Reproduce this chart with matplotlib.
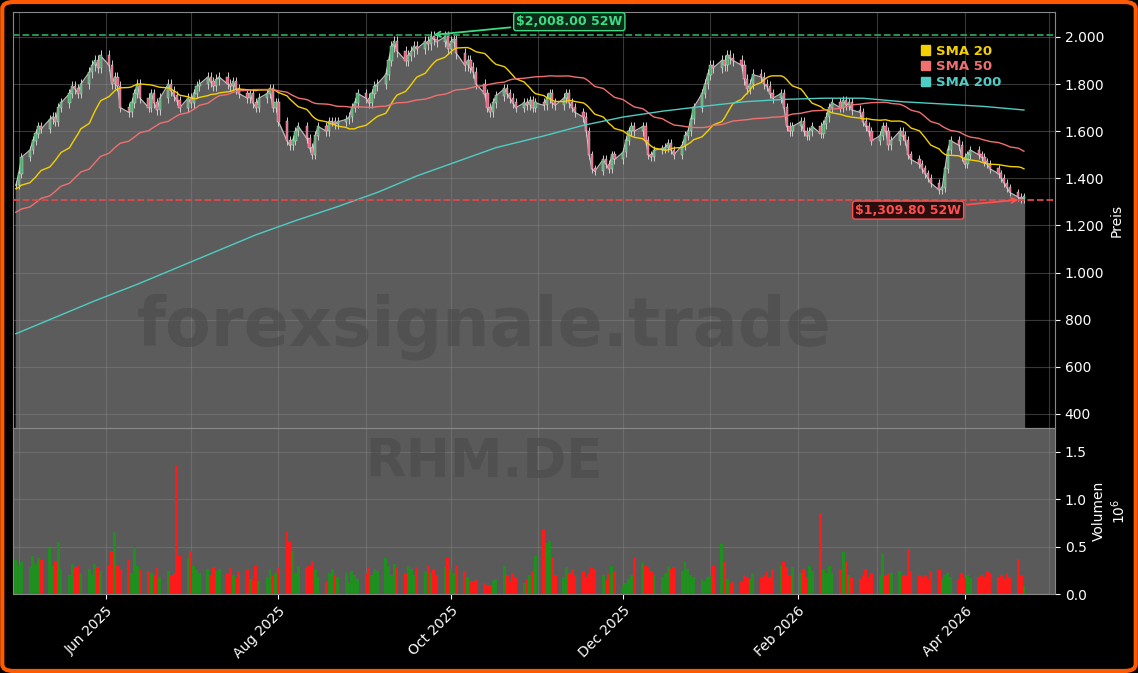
import numpy as np
import pandas as pd
import matplotlib.pyplot as plt
import matplotlib.dates as mdates
from matplotlib.patches import Patch, FancyBboxPatch
from matplotlib.ticker import FuncFormatter, MultipleLocator

# closes before the visible window (only used for the moving averages)
prior = [1080,1100,1120,1090,1110,1140,1160,1130,1150,1170,
         1140,1160,1180,1150,1170,1190,1200,1180,1210,1230,
         1200,1220,1240,1210,1230,1250,1270,1240,1260,1280,
         1300,1320,1290,1310,1330,1350,1320,1340,1360,1380,
         1350,1370,1390,1360,1380,1400,1380,1360,1390,1370]

closes = [1370,1420,1490,1520,1560,1590,1620,1610,1650,1660,
          1640,1700,1720,1760,1790,1780,1760,1800,1850,1880,
          1900,1870,1920,1880,1800,1830,1790,1700,1680,1720,
          1760,1800,1740,1700,1760,1720,1690,1740,1800,1770,1750,
          1730,1700,1740,1720,1760,1790,1800,1830,1810,1790,
          1820,1830,1800,1790,1810,1780,1760,1740,1760,1720,
          1700,1740,1760,1780,1700,1720,1640,1560,1540,1560,
          1600,1620,1570,1530,1500,1580,1620,1600,1640,1640,1630,
          1640,1650,1660,1700,1720,1760,1740,1720,1760,1790,
          1800,1840,1900,1960,1980,1940,1900,1920,1940,1960,
          1950,1980,1970,2000,1990,1980,2000,1950,1980,1990,
          1930,1880,1900,1870,1850,1800,1760,1700,1680,1720,1750,
          1780,1760,1740,1720,1700,1720,1710,1730,1700,1720,
          1710,1740,1760,1720,1710,1740,1760,1720,1700,1680,
          1660,1600,1500,1440,1430,1480,1460,1440,1500,1480,
          1510,1560,1600,1620,1600,1620,1560,1500,1490,1520,1525,
          1530,1550,1520,1500,1540,1580,1600,1650,1700,1760,
          1800,1840,1880,1870,1900,1880,1920,1910,1900,1880,
          1820,1780,1800,1840,1830,1800,1790,1760,1740,1760,
          1700,1620,1600,1620,1640,1600,1580,1600,1620,1590,1630,
          1660,1700,1720,1700,1730,1710,1720,1690,1680,1640,
          1620,1600,1560,1580,1620,1600,1540,1560,1600,1580,
          1560,1500,1480,1460,1440,1420,1400,1380,1350,1360,1440,
          1520,1560,1540,1490,1460,1500,1520,1500,1490,1470,
          1460,1440,1420,1400,1380,1360,1340,1320,1312,1322]

volumes = [0.36,0.30,0.34,0.28,0.40,0.32,
           0.38,0.36,0.48,0.30,0.35,0.55,0.25,0.20,0.32,0.28,
           0.30,0.22,0.26,0.20,0.32,0.28,0.24,0.30,0.45,0.65,
           0.30,0.26,0.36,0.22,0.50,0.30,0.26,0.24,0.22,0.20,
           0.28,0.18,0.24,0.20,0.22,1.35,0.40,0.38,0.45,0.30,
           0.25,0.22,0.26,0.20,0.28,0.24,0.26,0.22,0.27,0.20,
           0.18,0.24,0.26,0.16,0.15,0.30,0.14,0.18,0.26,0.20,
           0.22,0.28,0.65,0.55,0.45,0.22,0.30,0.28,0.30,0.35,
           0.25,0.18,0.14,0.22,0.26,0.20,0.18,0.22,0.12,0.24,
           0.20,0.16,0.22,0.28,0.20,0.26,0.24,0.38,0.30,0.20,
           0.32,0.28,0.22,0.30,0.26,0.20,0.28,0.24,0.30,0.22,
           0.26,0.20,0.28,0.38,0.26,0.22,0.30,0.24,0.18,0.14,
           0.14,0.16,0.12,0.10,0.10,0.14,0.16,0.30,0.20,0.14,
           0.22,0.18,0.12,0.16,0.20,0.24,0.40,0.68,0.54,0.56,
           0.38,0.20,0.18,0.28,0.22,0.26,0.20,0.24,0.18,0.22,
           0.28,0.26,0.20,0.16,0.22,0.30,0.24,0.10,0.12,0.16,
           0.20,0.38,0.34,0.30,0.28,0.24,0.20,0.18,0.22,0.30,
           0.26,0.28,0.24,0.34,0.26,0.20,0.18,0.16,0.14,0.18,
           0.20,0.30,0.53,0.34,0.16,0.12,0.14,0.14,0.20,0.18,
           0.16,0.22,0.18,0.20,0.24,0.18,0.26,0.30,0.34,0.28,
           0.20,0.28,0.22,0.26,0.18,0.30,0.24,0.85,0.26,0.22,
           0.30,0.22,0.26,0.44,0.34,0.20,0.18,0.16,0.20,0.26,
           0.18,0.22,0.20,0.42,0.20,0.22,0.22,0.24,0.20,0.20,
           0.47,0.24,0.20,0.18,0.20,0.16,0.24,0.25,0.16,0.20,
           0.22,0.18,0.16,0.22,0.18,0.20,0.17,0.18,0.20,0.18,
           0.24,0.22,0.18,0.20,0.16,0.22,0.18,0.37,0.20,0.08]

sma200 = [740,810,880,950,1020,1090,1160,1220,1280,1340,1410,1470,1530,
          1580,1625,1660,1685,1705,1725,1735,1740,1740,1725,1715,1705,1690]
high_52w = 2008.00
low_52w = 1309.80

n = len(closes)
dates = pd.bdate_range("2025-04-30", periods=n)
allc = pd.Series(prior + closes, dtype=float)
sma20 = allc.rolling(20).mean().values[len(prior):]
sma50 = allc.rolling(50).mean().values[len(prior):]
closes = np.array(closes, float)
volumes = np.array(volumes[:n], float)
opens = np.r_[prior[-1], closes[:-1]]
highs = np.maximum(opens, closes) * 1.012
lows = np.minimum(opens, closes) * 0.988
sma_dates = dates[np.linspace(0, n - 1, len(sma200)).round().astype(int)]

fig = plt.figure(figsize=(11.38, 6.73), dpi=100, facecolor="black")
W, H = 1138, 673
ax = fig.add_axes([13 / W, 1 - 428 / H, (1055 - 13) / W, (428 - 12) / H])
axv = fig.add_axes([13 / W, 1 - 594 / H, (1055 - 13) / W, (594 - 428) / H], sharex=ax)

ax.set_facecolor("black")
axv.set_facecolor("#5a5a5a")

ax.fill_between(dates, closes, 0, color="#5c5c5c", zorder=1)
ax.plot(dates, closes, color="#bbbbbb", lw=0.8, zorder=2)

up = closes >= opens
x = mdates.date2num(dates)
ax.vlines(x, lows, highs, color="#cccccc", lw=0.7, zorder=3)
ax.bar(x, np.abs(closes - opens) + 2, bottom=np.minimum(opens, closes), width=0.8,
       color=np.where(up, "#4caf6a", "#e8607e"), edgecolor="#dddddd", lw=0.3, zorder=4)

ax.plot(dates, sma20, color="#f5d000", lw=1, zorder=5)
ax.plot(dates, sma50, color="#f07070", lw=1, zorder=5)
ax.plot(sma_dates, sma200, color="#4ecdc4", lw=1, zorder=5)

ax.axhline(high_52w, color="#2e9e5a", ls="--", lw=1.3, zorder=6)
ax.axhline(low_52w, color="#e04848", ls="--", lw=1.3, zorder=6)
peak = dates[int(np.argmax(closes))]
ax.annotate(f"${high_52w:,.2f} 52W", xy=(peak, high_52w), xytext=(pd.Timestamp("2025-11-12"), 2065),
            color="#3ddc84", fontsize=9, fontweight="bold", ha="center", va="center",
            bbox=dict(boxstyle="round,pad=0.2", fc="#0d2a18", ec="#3ddc84"),
            arrowprops=dict(arrowstyle="->", color="#3ddc84", lw=1.3), zorder=7)
ax.annotate(f"${low_52w:,.2f} 52W", xy=(dates[-2], low_52w), xytext=(pd.Timestamp("2026-03-12"), 1265),
            color="#ff5050", fontsize=9, fontweight="bold", ha="center", va="center",
            bbox=dict(boxstyle="round,pad=0.2", fc="#2a0d0d", ec="#ff5050"),
            arrowprops=dict(arrowstyle="->", color="#ff5050", lw=1.3), zorder=7)

leg = ax.legend(handles=[Patch(color="#f5d000", label="SMA 20"),
                         Patch(color="#f07070", label="SMA 50"),
                         Patch(color="#4ecdc4", label="SMA 200")],
                loc="upper left", bbox_to_anchor=(0.86, 0.95), frameon=False,
                handlelength=0.7, handleheight=0.7, handletextpad=0.4,
                labelspacing=0.2, prop=dict(weight="bold", size=9.5))
for t, c in zip(leg.get_texts(), ["#f5d000", "#f07070", "#4ecdc4"]):
    t.set_color(c)

ax.set_ylim(340, 2106)
ax.yaxis.set_major_locator(MultipleLocator(200))
ax.yaxis.set_major_formatter(FuncFormatter(lambda v, p: f"{v:,.0f}".replace(",", ".")))
axv.bar(x, volumes, width=1.0, color=np.where(up, "#1f8f1f", "#ff1a1a"), zorder=2)
axv.set_ylim(0, 1.75)
axv.yaxis.set_major_locator(MultipleLocator(0.5))

for a in (ax, axv):
    a.yaxis.tick_right()
    a.yaxis.set_label_position("right")
    a.tick_params(colors="white", labelsize=10)
    a.grid(True, which="both", color="#888888", alpha=0.4, lw=0.8)
    for s in a.spines.values():
        s.set_color("#888888")
ax.set_ylabel("Preis", color="white", fontsize=10)
axv.set_ylabel("Volumen\n$10^6$", color="white", fontsize=10)
ax.tick_params(axis="x", labelbottom=False)
axv.xaxis.set_major_locator(mdates.MonthLocator(bymonth=[2, 4, 6, 8, 10, 12]))
axv.xaxis.set_minor_locator(mdates.MonthLocator())
axv.xaxis.set_major_formatter(mdates.DateFormatter("%b %Y"))
plt.setp(axv.get_xticklabels(), rotation=45, ha="right", rotation_mode="anchor")
axv.set_xlim(pd.Timestamp("2025-04-29"), pd.Timestamp("2026-05-03"))

fig.text(0.425, 0.515, "forexsignale.trade", fontsize=48, fontweight="bold",
         color="#4a4a4a", alpha=0.6, ha="center", va="center", zorder=10)
fig.text(0.425, 0.313, "RHM.DE", fontsize=38, fontweight="bold",
         color="#4a4a4a", alpha=0.6, ha="center", va="center", zorder=10)

fig.patches.append(FancyBboxPatch((0.002, 0.003), 0.996, 0.994, boxstyle="round,pad=0,rounding_size=0.01",
                                  transform=fig.transFigure, fc="none", ec="#ff5a00", lw=3))
fig.savefig("out.png", dpi=100, facecolor="black")
